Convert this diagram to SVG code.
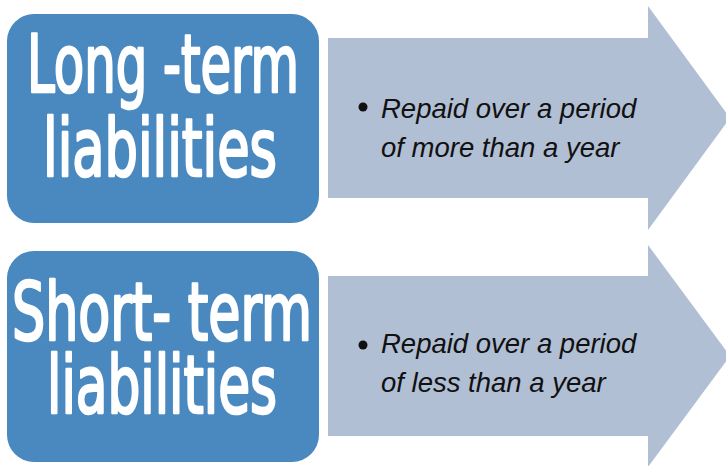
<svg xmlns="http://www.w3.org/2000/svg" width="726" height="466" viewBox="0 0 726 466">
  <style>
    .box { fill: #4a88c0; }
    .arrow { fill: #b1bfd4; }
    .title { fill: #ffffff; stroke: #ffffff; stroke-width: 2; stroke-linejoin: round; font-family: "DejaVu Sans Condensed", "Liberation Sans Narrow", "DejaVu Sans", sans-serif; font-weight: normal; font-size: 62px; }
    .body { fill: #111111; font-family: "Liberation Sans", Arial, sans-serif; font-style: italic; font-size: 27.5px; }
    .dot { fill: #111111; }
  </style>
  <rect width="726" height="466" fill="#ffffff"/>
  <g id="connectors">
    <polygon id="arrow-long" class="arrow" points="328,38 648,38 648,6 730,118 648,230 648,198 328,198"/>
    <polygon id="arrow-short" class="arrow" points="328,276 648,276 648,245 730,356 648,467 648,436 328,436"/>
  </g>
  <g id="node-long-term">
    <rect class="box" x="7" y="14" width="312" height="209" rx="27" ry="27"/>
    <text class="title" transform="scale(1,1.3)"><tspan x="27" y="70.77" textLength="272" lengthAdjust="spacingAndGlyphs">Long -term</tspan><tspan x="43" y="135.38" textLength="234" lengthAdjust="spacingAndGlyphs">liabilities</tspan></text>
  </g>
  <g id="node-long-desc">
    <circle class="dot" cx="363" cy="107" r="4.5"/>
    <text class="body" x="381" y="118">Repaid over a period</text>
    <text class="body" x="381" y="157">of more than a year</text>
  </g>
  <g id="node-short-term">
    <rect class="box" x="7" y="251" width="312" height="211" rx="27" ry="27"/>
    <text class="title" transform="scale(1,1.3)"><tspan x="12" y="261.54" textLength="300" lengthAdjust="spacingAndGlyphs">Short- term</tspan><tspan x="47" y="317.69" textLength="230" lengthAdjust="spacingAndGlyphs">liabilities</tspan></text>
  </g>
  <g id="node-short-desc">
    <circle class="dot" cx="363" cy="345" r="4.5"/>
    <text class="body" x="381" y="353">Repaid over a period</text>
    <text class="body" x="381" y="392">of less than a year</text>
  </g>
</svg>
